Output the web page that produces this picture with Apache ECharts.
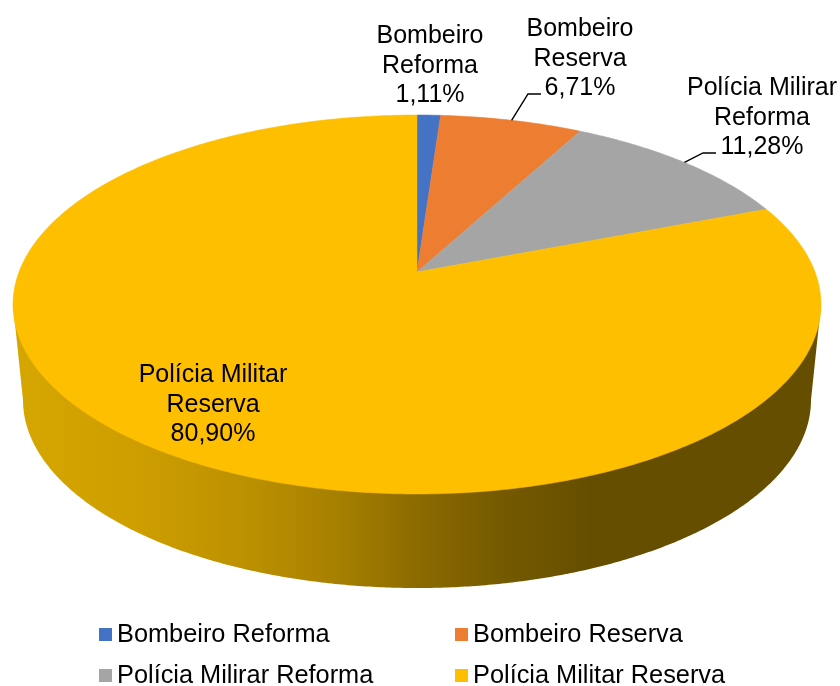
<!DOCTYPE html>
<html><head><meta charset="utf-8">
<style>html,body{margin:0;padding:0;background:#fff}#c{width:840px;height:686px}</style>
<script src="https://cdn.jsdelivr.net/npm/echarts@6/dist/echarts.min.js"></script>
</head><body><div id="c"></div>
<script>
const categories = ['Bombeiro Reforma', 'Bombeiro Reserva', 'Polícia Milirar Reforma', 'Polícia Militar Reserva'];
const percentages = [1.11, 6.71, 11.28, 80.90];
const colors = ['#4472C4', '#ED7D31', '#A5A5A5', '#FDBF00'];

// Perspective disc geometry
const top_ = {cx: 417, cy: 304.5, rx: 404, ry: 189.5};
const base = {cx: 417, cy: 400, rx: 394, ry: 188};
const tilt = 0.1715; // maps disc centre onto the visible apex
const FONT = '"Liberation Sans", Arial, sans-serif';
const labelLayout = [
  {x: 430, y: 66},
  {x: 580, y: 59, leader: [[528, 94], [541, 94]]},
  {x: 762, y: 118, leader: [[703, 153], [716, 153]]},
  {x: 213, y: 405}
];
const wallStops = [[13,'#D6A600'],[140,'#CE9E00'],[250,'#BB9000'],[340,'#A67F00'],[420,'#8B6A00'],[500,'#755A00'],[590,'#664E00'],[821,'#664E00']];

function project(theta) {
  const u = Math.sin(theta), v = Math.cos(theta);
  const d = 1 + tilt * v;
  return [top_.cx + top_.rx * u * Math.sqrt(1 - tilt * tilt) / d,
          top_.cy - top_.ry * (v + tilt) / d];
}
const total = percentages.reduce((a, b) => a + b, 0);
const startsAt = percentages.map((_, i) => percentages.slice(0, i).reduce((a, b) => a + b, 0));

function renderSlice(i) {
  return function (params, api) {
    const value = api.value(0), start = api.value(1);
    const a0 = start / total * 2 * Math.PI, a1 = (start + value) / total * 2 * Math.PI;
    const n = Math.max(2, Math.ceil((a1 - a0) / (Math.PI / 240)));
    const face = [];
    for (let k = 0; k <= n; k++) face.push(project(a0 + (a1 - a0) * k / n));
    face.push([top_.cx, top_.cy - top_.ry * tilt]);
    const color = api.visual('color');
    const children = [];
    if (a0 < Math.PI && a1 > Math.PI) {
      const wall = [[top_.cx - top_.rx, top_.cy]];
      for (let k = 0; k <= 360; k++) {
        const t = Math.PI * k / 360;
        wall.push([base.cx - base.rx * Math.cos(t), base.cy + base.ry * Math.sin(t)]);
      }
      wall.push([top_.cx + top_.rx, top_.cy]);
      children.push({type: 'polygon', shape: {points: wall}, style: {
        fill: new echarts.graphic.LinearGradient(13, 0, 821, 0,
          wallStops.map(s => ({offset: (s[0] - 13) / 808, color: s[1]})), true)
      }});
    }
    children.push({type: 'polygon', shape: {points: face}, style: {fill: color, stroke: color, lineWidth: 0.5}});
    const lay = labelLayout[i];
    if (lay.leader) {
      children.push({type: 'polyline', shape: {points: [project((a0 + a1) / 2)].concat(lay.leader)},
        style: {fill: 'none', stroke: '#000', lineWidth: 1.4}});
    }
    const name = categories[i];
    const sp = name.lastIndexOf(' ');
    const text = name.slice(0, sp) + '\n' + name.slice(sp + 1) + '\n' + value.toFixed(2).replace('.', ',') + '%';
    children.push({type: 'text', x: lay.x, y: lay.y, style: {
      text, fill: '#000', fontSize: 25, fontFamily: FONT, lineHeight: 29.5,
      align: 'center', verticalAlign: 'middle'
    }});
    return {type: 'group', children};
  };
}

const chart = echarts.init(document.getElementById('c'));
const legendBase = {orient: 'vertical', icon: 'rect', itemWidth: 13, itemHeight: 13, itemGap: 16, padding: 0, height: 90,
  textStyle: {fontFamily: FONT, fontSize: 25.35, color: '#000'}, selectedMode: false};
chart.setOption({
  backgroundColor: '#fff',
  animation: false,
  legend: [
    Object.assign({}, legendBase, {left: 99, top: 622, data: [categories[0], categories[2]]}),
    Object.assign({}, legendBase, {left: 455, top: 622, data: [categories[1], categories[3]]})
  ],
  series: categories.map((name, i) => ({
    type: 'custom', name, coordinateSystem: 'none', silent: true, clip: false,
    itemStyle: {color: colors[i]},
    renderItem: renderSlice(i),
    data: [[percentages[i], startsAt[i]]]
  }))
});
</script></body></html>
